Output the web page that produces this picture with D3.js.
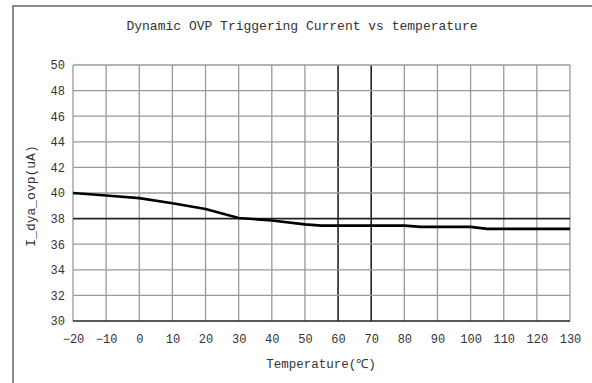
<!DOCTYPE html>
<html>
<head>
<meta charset="utf-8">
<script src="https://cdn.jsdelivr.net/npm/d3@7"></script>
<style>
  body { margin: 0; background: #fff; }
  text { font-family: "Liberation Mono", "DejaVu Sans Mono", monospace; fill: #333; }
</style>
</head>
<body>
<div id="chart"></div>
<script>
// readings, temperature in C vs current in uA
let temps = [-20, -10, 0, 10, 20, 30, 40, 50, 55, 60, 70, 80, 85, 90, 100, 105, 110, 120, 130];
let current = [40.0, 39.8, 39.6, 39.2, 38.75, 38.05, 37.85, 37.55, 37.45, 37.45, 37.45, 37.45, 37.35, 37.35, 37.35, 37.2, 37.2, 37.2, 37.2];
let xTicks = [-20, -10, 0, 10, 20, 30, 40, 50, 60, 70, 80, 90, 100, 110, 120, 130];
let yTicks = [30, 32, 34, 36, 38, 40, 42, 44, 46, 48, 50];
let specX = [60, 70];
let specY = [38];

let W = 592, H = 383;
// "top" clashes with window.top, hence the m prefix
let mLeft = 73, mRight = 570, mTop = 65, mBottom = 321;

let svg = d3.select("#chart").append("svg")
    .attr("width", W)
    .attr("height", H);

// outer frame, only left and top edges are visible in the picture
svg.append("path")
    .attr("d", "M13," + (H + 2) + " L13,6 L" + (W + 2) + ",6")
    .attr("fill", "none")
    .attr("stroke", "#8a8a8a")
    .attr("stroke-width", 2);

let x = d3.scaleLinear().domain([-20, 130]).range([mLeft, mRight]);
let y = d3.scaleLinear().domain([30, 50]).range([mBottom, mTop]);

// grid
svg.append("g").selectAll("line")
    .data(xTicks)
    .join("line")
    .attr("x1", d => x(d)).attr("x2", d => x(d))
    .attr("y1", mTop).attr("y2", mBottom)
    .attr("stroke", d => specX.includes(d) ? "#222" : "#9a9a9a")
    .attr("stroke-width", d => specX.includes(d) ? 1.6 : 1.3);

svg.append("g").selectAll("line")
    .data(yTicks)
    .join("line")
    .attr("x1", mLeft).attr("x2", mRight)
    .attr("y1", d => y(d)).attr("y2", d => y(d))
    .attr("stroke", d => (specY.includes(d) || d === 30) ? "#222" : "#9a9a9a")
    .attr("stroke-width", d => (specY.includes(d) || d === 30) ? 1.6 : 1.3);

// tick labels
let xAxis = d3.axisBottom(x).tickValues(xTicks).tickSize(0).tickPadding(13)
    .tickFormat(d => d < 0 ? "\u2212" + Math.abs(d) : d);
let gx = svg.append("g").attr("transform", "translate(0," + mBottom + ")").call(xAxis);
gx.select(".domain").remove();
gx.selectAll("text").style("font-size", "12px").attr("fill", "#333");

let yAxis = d3.axisLeft(y).tickValues(yTicks).tickSize(0).tickPadding(8);
let gy = svg.append("g").attr("transform", "translate(" + mLeft + ",0)").call(yAxis);
gy.select(".domain").remove();
gy.selectAll("text").style("font-size", "12px").attr("fill", "#333");

// data curve
let line = d3.line()
    .x((d, i) => x(temps[i]))
    .y(d => y(d));
svg.append("path")
    .datum(current)
    .attr("fill", "none")
    .attr("stroke", "#000")
    .attr("stroke-width", 2.6)
    .attr("d", line);

// titles
svg.append("text")
    .attr("x", 302).attr("y", 30)
    .attr("text-anchor", "middle")
    .style("font-size", "13px")
    .text("Dynamic OVP Triggering Current vs temperature");

svg.append("text")
    .attr("x", 321).attr("y", 368)
    .attr("text-anchor", "middle")
    .style("font-size", "12.5px")
    .text("Temperature(\u2103)");

svg.append("text")
    .attr("transform", "translate(35,196) rotate(-90)")
    .attr("text-anchor", "middle")
    .style("font-size", "13px")
    .text("I_dya_ovp(uA)");
</script>
</body>
</html>
